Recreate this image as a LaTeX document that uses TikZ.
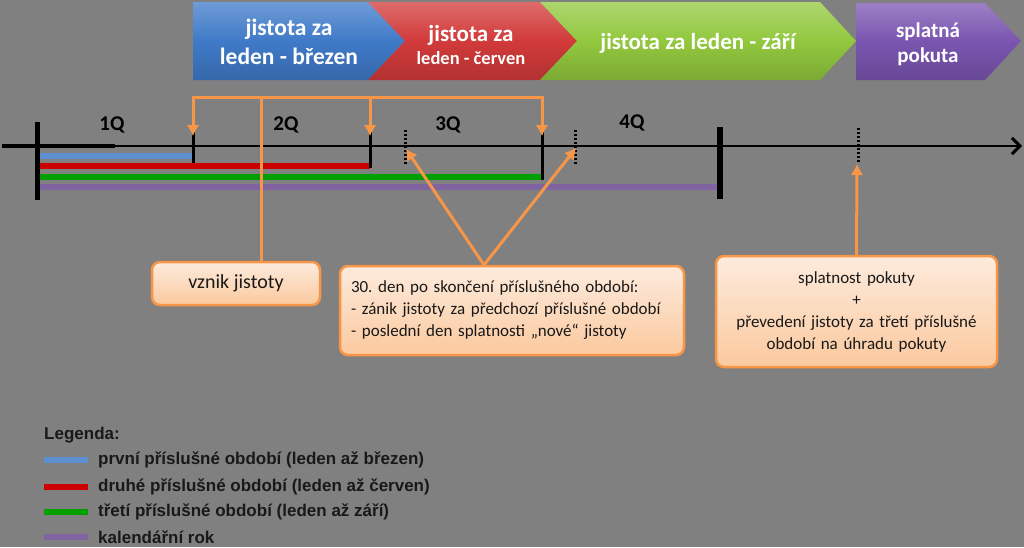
\documentclass[tikz,border=0pt]{standalone}
\usepackage{fontspec}
\setmainfont{Carlito}
\newfontfamily\legfont{Liberation Sans}
\usetikzlibrary{arrows.meta}
\definecolor{bgray}{HTML}{808080}
\definecolor{orng}{HTML}{F79646}
\definecolor{boxtop}{HTML}{FDEBDD}
\definecolor{boxbot}{HTML}{FBC99E}
\definecolor{cblue}{HTML}{3F7AC8}
\definecolor{cred}{HTML}{D23A3A}
\definecolor{cgreen}{HTML}{92C83E}
\definecolor{cpurple}{HTML}{7A55B0}
\definecolor{pblue}{HTML}{5B8FD0}
\definecolor{pred}{HTML}{CC0000}
\definecolor{pgreen}{HTML}{00A000}
\definecolor{ppurple}{HTML}{8064A2}
\frenchspacing
\begin{document}
\begin{tikzpicture}[x=1pt,y=-1pt,
    chevtxt/.style={text=white,font=\bfseries,align=center,inner sep=0pt},
    qlabel/.style={font=\bfseries\fontsize{21}{24}\selectfont,inner sep=0pt},
    conn/.style={draw=orng,line width=3pt},
    tip/.style={-{Latex[length=11pt,width=13pt]}},
    infobox/.style={draw=orng,line width=2.5pt,rounded corners=8pt,
      top color=boxtop,bottom color=boxbot,text=black!90,
      font=\fontsize{17}{22}\selectfont},
    period/.style={line width=6pt},
    tick/.style={line width=3pt},
    dtick/.style={line width=3pt,dash pattern=on 2pt off 2pt},
    legtxt/.style={anchor=west,inner sep=0pt,text=black!90,
      font=\legfont\bfseries\fontsize{17}{20}\selectfont}]
  \useasboundingbox[fill=bgray] (0,0) rectangle (1024,547);

  % chevrons
  \path[top color=cblue!75!white,bottom color=cblue!85!black,middle color=cblue]
    (193,2) -- (368,2) -- (405,41) -- (368,80) -- (193,80) -- cycle;
  \path[top color=cred!75!white,bottom color=cred!85!black,middle color=cred]
    (368,2) -- (540,2) -- (577,41) -- (540,80) -- (368,80) -- (405,41) -- cycle;
  \path[top color=cgreen!75!white,bottom color=cgreen!85!black,middle color=cgreen]
    (540,2) -- (820,2) -- (856,41) -- (820,80) -- (540,80) -- (577,41) -- cycle;
  \path[top color=cpurple!75!white,bottom color=cpurple!85!black,middle color=cpurple]
    (856,3) -- (985,3) -- (1021,41) -- (985,80) -- (856,80) -- cycle;
  \node[chevtxt,font=\bfseries\fontsize{23.5}{29}\selectfont] (jlb) at (289,42) {jistota za\\leden - březen};
  \node[chevtxt] (jlc) at (471,45) {{\fontsize{23}{25}\selectfont jistota za}\\[5pt]{\fontsize{18.5}{26}\selectfont leden - červen}};
  \node[chevtxt,font=\bfseries\fontsize{23}{26}\selectfont] (jlz) at (698,43) {jistota za leden - září};
  \node[chevtxt,font=\bfseries\fontsize{21}{25}\selectfont] (splat) at (928,44) {splatná\\pokuta};

  % periods
  \draw[period,pblue] (40,156) -- (193,156);
  \draw[period,pred] (40,166) -- (370,166);
  \draw[period,pgreen] (40,177) -- (542,177);
  \draw[period,ppurple] (40,187) -- (720,187);

  % time axis
  \draw[line width=2.5pt,-{Straight Barb[length=8pt,width=16pt,line width=3pt]}] (2,146) -- (1022,146);
  \draw[line width=4pt] (2,146) -- (115,146);
  \draw[line width=5pt] (37,122) -- (37,200);
  \draw[line width=6pt] (720,127) -- (720,199);
  \coordinate (t1) at (193,130);
  \coordinate (t2) at (370,130);
  \coordinate (t3) at (542,130);
  \draw[tick] (t1) -- (193,163);
  \draw[tick] (t2) -- (370,168);
  \draw[tick] (t3) -- (542,180);
  \draw[dtick] (405,130) -- (405,164);
  \draw[dtick] (575,130) -- (575,164);
  \draw[dtick] (858,128) -- (858,163);
  \node[qlabel] (q1) at (112,125) {1Q};
  \node[qlabel] (q2) at (286,125) {2Q};
  \node[qlabel] (q3) at (448,125) {3Q};
  \node[qlabel] (q4) at (632,123) {4Q};

  % boxes
  \node[infobox,minimum width=168pt,minimum height=43pt,
    font=\fontsize{20}{22}\selectfont] (vznik) at (236,283.5) {vznik jistoty};
  \node[infobox,minimum width=344pt,minimum height=89pt,text width=322pt,
    inner xsep=11pt,align=left] (zanik) at (512,310.5)
    {30. den po skončení příslušného období:\\
     - zánik jistoty za předchozí příslušné období\\
     - poslední den splatnosti „nové“ jistoty};
  \node[infobox,minimum width=281pt,minimum height=111pt,text width=270pt,
    align=center] (pokuta) at (856.5,311.5)
    {splatnost pokuty\\+\\převedení jistoty za třetí příslušné\\období na úhradu pokuty};

  % connectors
  \coordinate (top) at (261,97);
  \coordinate (mid) at (370,97);
  \coordinate (apex) at (484,265);
  \coordinate (base) at (261,262);
  \draw[conn] (base) -- (top);
  \draw[conn,tip] (top) -| ([yshift=-6pt]t1);
  \draw[conn,tip] (top) -| ([yshift=-6pt]t3);
  \draw[conn,tip] (mid) -- ([yshift=-6pt]t2);
  \draw[conn,tip] (apex) -- (406,149);
  \draw[conn,tip] (apex) -- (576,148);
  \draw[conn,tip] (pokuta.north) -- (857,164);

  % legend
  \node[legtxt] (leg) at (44,435) {Legenda:};
  \draw[period,pblue] (44,460) -- (88,460);
  \draw[period,pred] (44,487) -- (88,487);
  \draw[period,pgreen] (44,512) -- (88,512);
  \draw[period,ppurple] (44,537) -- (88,537);
  \node[legtxt] (l1) at (98,460) {první příslušné období (leden až březen)};
  \node[legtxt] (l2) at (98,487) {druhé příslušné období (leden až červen)};
  \node[legtxt] (l3) at (98,512) {třetí příslušné období (leden až září)};
  \node[legtxt] (l4) at (98,537) {kalendářní rok};
\end{tikzpicture}
\end{document}
